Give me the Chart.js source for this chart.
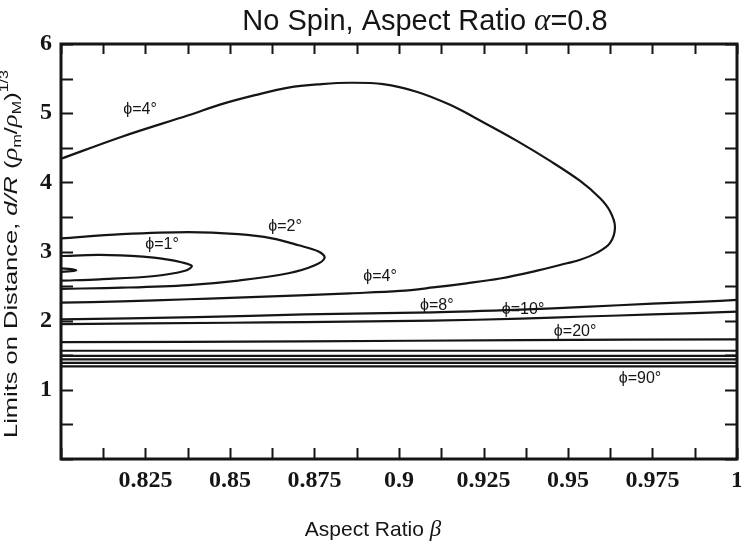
<!DOCTYPE html>
<html>
<head>
<meta charset="utf-8">
<script src="https://cdn.jsdelivr.net/npm/chart.js@4.4.1/dist/chart.umd.min.js"></script>
<style>
  html, body { margin: 0; padding: 0; background: #fff; }
  canvas { display: block; }
</style>
</head>
<body>
<canvas id="chart" width="741" height="545"></canvas>
<script>
// Contours of the distance limit d/R (rho_m/rho_M)^(1/3) versus aspect ratio beta,
// one curve per inclination angle phi (degrees).

// phi = 0.5 deg: tiny loop hugging the left edge
const phiHalfBeta = [0.800, 0.8030, 0.8045, 0.8030, 0.800];
const phiHalfDist = [2.705, 2.715, 2.730, 2.745, 2.755];

// phi = 1 deg: closed loop opening to the left
const phi1Beta = [0.800, 0.8115, 0.8243, 0.8312, 0.8356, 0.8387, 0.8367, 0.8278, 0.8115, 0.800];
const phi1Dist = [2.935, 2.950, 2.925, 2.887, 2.844, 2.790, 2.722, 2.646, 2.598, 2.578];

// phi = 2 deg
const phi2Beta = [0.800, 0.818, 0.8377, 0.8525, 0.8624, 0.8703, 0.8762, 0.8780, 0.8751, 0.8673, 0.8525, 0.8377, 0.818, 0.800];
const phi2Dist = [3.190, 3.250, 3.280, 3.250, 3.190, 3.090, 3.000, 2.910, 2.800, 2.685, 2.580, 2.515, 2.477, 2.460];

// phi = 4 deg: large loop, upper branch then lower branch
const phi4Beta = [0.800, 0.818, 0.8377, 0.8475, 0.8574, 0.8673, 0.8771, 0.8855, 0.8953, 0.9052, 0.9151,
                  0.9249, 0.9349, 0.9447, 0.9536, 0.9595, 0.9624, 0.9639, 0.9624, 0.9585, 0.9536, 0.9497,
                  0.9397, 0.9299, 0.9200, 0.9101, 0.9003, 0.8855, 0.8707, 0.850, 0.8377, 0.818, 0.800];
const phi4Dist = [4.340, 4.660, 4.970, 5.130, 5.260, 5.370, 5.420, 5.440, 5.420, 5.310, 5.120,
                  4.870, 4.600, 4.310, 4.020, 3.770, 3.585, 3.355, 3.120, 2.980, 2.880, 2.830,
                  2.710, 2.610, 2.540, 2.480, 2.430, 2.395, 2.365, 2.330, 2.310, 2.280, 2.260];

// phi = 8 deg
const phi8Beta = [0.800, 0.840, 0.872, 0.910, 0.936, 0.955, 0.975, 0.990, 1.000];
const phi8Dist = [2.020, 2.050, 2.090, 2.120, 2.160, 2.200, 2.245, 2.275, 2.300];

// phi = 10 deg
const phi10Beta = [0.800, 0.850, 0.872, 0.910, 0.936, 0.955, 0.975, 1.000];
const phi10Dist = [1.950, 1.970, 1.980, 2.000, 2.030, 2.060, 2.090, 2.130];

// phi = 20 deg
const phi20Beta = [0.800, 0.872, 0.936, 1.000];
const phi20Dist = [1.690, 1.700, 1.720, 1.730];

// steeper inclinations are flat in beta; the lowest one is phi = 90 deg
const flatBeta = [0.800, 1.000];
const flatLevels = [1.565, 1.490, 1.440, 1.390, 1.340];

// in-plot curve labels
const curveLabels = ['\u03d5=4\u00b0', '\u03d5=2\u00b0', '\u03d5=1\u00b0', '\u03d5=4\u00b0', '\u03d5=8\u00b0', '\u03d5=10\u00b0', '\u03d5=20\u00b0', '\u03d5=90\u00b0'];
const curveLabelBeta = [0.8234, 0.8663, 0.8299, 0.8944, 0.9112, 0.9367, 0.9521, 0.9713];
const curveLabelDist = [5.046, 3.354, 3.094, 2.631, 2.212, 2.154, 1.836, 1.157];

// axis tick labels
const betaTickLabels = ['0.825', '0.85', '0.875', '0.9', '0.925', '0.95', '0.975', '1'];
const distTickLabels = ['1', '2', '3', '4', '5', '6'];

const ink = '#151515';
const sans = '"Liberation Sans", Arial, sans-serif';
const serif = '"Liberation Serif", "Times New Roman", serif';

function curve(beta, dist) {
  return {
    data: beta.map((b, i) => ({ x: b, y: dist[i] })),
    showLine: true,
    borderColor: ink,
    borderWidth: 2.2,
    pointRadius: 0,
    tension: 0.35,
    fill: false
  };
}

const datasets = [
  curve(phiHalfBeta, phiHalfDist),
  curve(phi1Beta, phi1Dist),
  curve(phi2Beta, phi2Dist),
  curve(phi4Beta, phi4Dist),
  curve(phi8Beta, phi8Dist),
  curve(phi10Beta, phi10Dist),
  curve(phi20Beta, phi20Dist),
  ...flatLevels.map(v => curve(flatBeta, flatBeta.map(() => v)))
];

function labelFor(list, value) {
  const hit = list.find(s => Math.abs(parseFloat(s) - value) < 1e-6);
  return hit === undefined ? '' : hit;
}

// measure / draw a run of mixed-style text pieces
function runWidth(ctx, pieces) {
  return pieces.reduce((w, p) => { ctx.font = p.font; return w + ctx.measureText(p.text).width; }, 0);
}
function drawRun(ctx, pieces, x0, y0) {
  let x = x0;
  pieces.forEach(p => {
    ctx.font = p.font;
    ctx.fillText(p.text, x, y0 + (p.dy || 0));
    x += ctx.measureText(p.text).width;
  });
}

const decor = {
  id: 'decor',
  afterDatasetsDraw(chart) {
    const { ctx, chartArea: a, scales: { x, y } } = chart;
    ctx.save();
    ctx.strokeStyle = ink;
    ctx.fillStyle = ink;
    ctx.lineCap = 'butt';

    // inward tick marks on all four sides
    ctx.lineWidth = 2;
    ctx.beginPath();
    x.ticks.forEach(t => {
      const px = Math.round(x.getPixelForValue(t.value)) + 0.5;
      ctx.moveTo(px, a.bottom); ctx.lineTo(px, a.bottom - 11);
      ctx.moveTo(px, a.top); ctx.lineTo(px, a.top + 10);
    });
    y.ticks.forEach(t => {
      const py = Math.round(y.getPixelForValue(t.value)) + 0.5;
      ctx.moveTo(a.left, py); ctx.lineTo(a.left + 12, py);
      ctx.moveTo(a.right, py); ctx.lineTo(a.right - 12, py);
    });
    ctx.stroke();

    // frame
    ctx.lineWidth = 3;
    ctx.strokeRect(a.left, a.top, a.right - a.left, a.bottom - a.top);

    // curve labels
    ctx.font = '16px ' + sans;
    ctx.textAlign = 'center';
    ctx.textBaseline = 'middle';
    curveLabels.forEach((s, i) => {
      ctx.fillText(s, x.getPixelForValue(curveLabelBeta[i]), y.getPixelForValue(curveLabelDist[i]));
    });

    ctx.textAlign = 'left';
    ctx.textBaseline = 'alphabetic';

    // chart title
    const title = [
      { text: 'No Spin, Aspect Ratio ', font: '29px ' + sans },
      { text: '\u03b1', font: 'italic 31px ' + serif },
      { text: '=0.8', font: '29px ' + sans }
    ];
    const tw = runWidth(ctx, title);
    drawRun(ctx, title, 425 - tw / 2, 30);

    // x axis title
    const xt = [
      { text: 'Aspect Ratio ', font: '21px ' + sans },
      { text: '\u03b2', font: 'italic 23px ' + serif }
    ];
    const xw = runWidth(ctx, xt);
    drawRun(ctx, xt, 373 - xw / 2, 536);

    // y axis title, rotated and stretched along its reading direction
    const yt = [
      { text: 'Limits on Distance, ', font: '19px ' + sans },
      { text: 'd/R', font: 'italic 19px ' + sans },
      { text: ' (', font: '19px ' + sans },
      { text: '\u03c1', font: 'italic 20px ' + serif },
      { text: 'm', font: '12px ' + sans, dy: 4 },
      { text: '/', font: '19px ' + sans },
      { text: '\u03c1', font: 'italic 20px ' + serif },
      { text: 'M', font: '12px ' + sans, dy: 4 },
      { text: ')', font: '19px ' + sans },
      { text: '1/3', font: '12px ' + sans, dy: -9 }
    ];
    const yw = runWidth(ctx, yt);
    const yBottom = 438, yTop = 70;
    ctx.save();
    ctx.translate(17, yBottom);
    ctx.rotate(-Math.PI / 2);
    ctx.scale((yBottom - yTop) / yw, 1);
    drawRun(ctx, yt, 0, 0);
    ctx.restore();

    ctx.restore();
  }
};

const tickFont = { family: serif, size: 24, weight: 'bold' };

new Chart(document.getElementById('chart'), {
  type: 'scatter',
  data: { datasets },
  plugins: [decor],
  options: {
    responsive: false,
    animation: false,
    events: [],
    layout: { padding: { top: 44, right: 4, left: 0, bottom: 0 } },
    plugins: { legend: { display: false }, tooltip: { enabled: false }, title: { display: false } },
    scales: {
      x: {
        type: 'linear',
        min: 0.8,
        max: 1.0,
        border: { display: false },
        grid: { display: false, drawTicks: false },
        afterBuildTicks(scale) {
          const ticks = [];
          for (let i = 0; i <= 16; i++) ticks.push({ value: +(0.8 + i * 0.0125).toFixed(5) });
          scale.ticks = ticks;
        },
        ticks: {
          autoSkip: false,
          maxRotation: 0,
          minRotation: 0,
          padding: 7,
          color: ink,
          font: tickFont,
          callback: v => labelFor(betaTickLabels, v)
        },
        afterFit(scale) { scale.height = 86; scale.paddingLeft = 0; scale.paddingRight = 0; }
      },
      y: {
        type: 'linear',
        min: 0,
        max: 6,
        border: { display: false },
        grid: { display: false, drawTicks: false },
        afterBuildTicks(scale) {
          const ticks = [];
          for (let i = 0; i <= 12; i++) ticks.push({ value: i * 0.5 });
          scale.ticks = ticks;
        },
        ticks: {
          autoSkip: false,
          padding: 9,
          color: ink,
          font: tickFont,
          callback: v => labelFor(distTickLabels, v)
        },
        afterFit(scale) { scale.width = 61; scale.paddingTop = 0; scale.paddingBottom = 0; }
      }
    }
  }
});
</script>
</body>
</html>
